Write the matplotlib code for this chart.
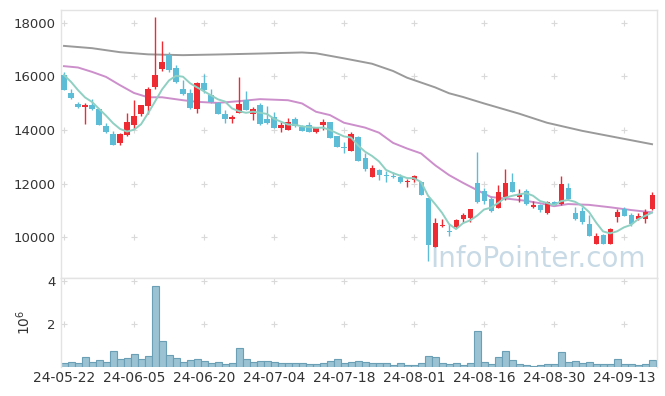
import numpy as np
import pandas as pd
import matplotlib
matplotlib.use("Agg")
import matplotlib.pyplot as plt

# daily prices (trading-day index 0..84)
opens = [16050, 15370, 14960, 14860, 14930, 14790, 14140, 13850, 13500, 13820,
         14170, 14600, 14890, 15610, 16280, 16800, 16310, 15520, 15370, 14790,
         15740, 15290, 14990, 14580, 14420, 14640, 15100, 14590, 14930, 14400,
         14480, 14080, 14010, 14400, 14120, 14180, 13920, 14180, 14300, 13770,
         13370, 13230, 13750, 12940, 12260, 12510, 12320, 12290, 12230, 12050,
         12130, 12060, 11460, 9650, 10420, 10250, 10370, 10680, 10730, 12010,
         11720, 11410, 11100, 11490, 12050, 11510, 11720, 11130, 11190, 10890,
         11300, 11230, 11840, 10920, 10980, 10510, 9760, 10070, 9740, 10770,
         11040, 10820, 10670, 10680, 11040]
highs = [16170, 15510, 15040, 15000, 15150, 14800, 14250, 13950, 13870, 14620,
         15110, 14950, 15590, 18210, 17310, 16910, 16420, 15860, 15510, 15800,
         16080, 15510, 15040, 14740, 14560, 15960, 15440, 14870, 14990, 14890,
         14660, 14290, 14430, 14490, 14200, 14280, 14100, 14400, 14310, 13780,
         13540, 13920, 13760, 13130, 12700, 12530, 12460, 12440, 12350, 12180,
         12330, 12080, 11470, 10730, 10670, 10500, 10700, 10900, 11050, 13190,
         11840, 11540, 11940, 12530, 12380, 11790, 11790, 11350, 11260, 11340,
         11360, 12280, 12010, 11120, 11140, 10830, 10170, 10120, 10330, 11040,
         11120, 10900, 10900, 11040, 11680]
lows = [15480, 15140, 14810, 14220, 14740, 14180, 13900, 13450, 13440, 13770,
        14020, 14520, 14590, 15510, 16200, 16170, 15770, 15320, 14790, 14620,
        15390, 14990, 14580, 14270, 14250, 14620, 14730, 14390, 14200, 14210,
        14080, 13910, 13990, 14120, 13960, 13930, 13880, 14000, 13700, 13370,
        13130, 13220, 12850, 12480, 12250, 12130, 12050, 12220, 12030, 11880,
        12080, 11580, 9120, 9640, 10400, 10060, 10360, 10580, 10580, 11270,
        11240, 10960, 11100, 11390, 11690, 11330, 11200, 11090, 10950, 10880,
        11200, 11220, 11400, 10660, 10480, 10060, 9760, 9740, 9740, 10560,
        10800, 10430, 10640, 10520, 11030]
closes = [15480, 15190, 14850, 14930, 14780, 14190, 13930, 13450, 13850, 14290,
          14540, 14930, 15510, 16040, 16530, 16230, 15790, 15340, 14830, 15760,
          15490, 15040, 14590, 14420, 14480, 14980, 14740, 14800, 14210, 14260,
          14080, 14190, 14280, 14160, 13970, 13930, 14070, 14310, 13710, 13370,
          13340, 13860, 12850, 12540, 12570, 12320, 12280, 12260, 12070, 12110,
          12280, 11590, 9710, 10530, 10460, 10190, 10640, 10820, 11040, 11330,
          11350, 10990, 11680, 12010, 11700, 11610, 11240, 11190, 11020, 11330,
          11210, 11990, 11410, 10680, 10580, 10060, 10040, 9740, 10320, 10950,
          10810, 10500, 10790, 10930, 11580]
# closes of the four sessions before the window (needed for the 5-day average)
prev_closes = [16435, 16395, 16290, 15620]

# volume in millions of shares
volume = [0.19, 0.23, 0.19, 0.47, 0.25, 0.34, 0.25, 0.74, 0.37, 0.42,
          0.60, 0.37, 0.51, 3.77, 1.21, 0.56, 0.42, 0.23, 0.33, 0.37,
          0.28, 0.19, 0.23, 0.14, 0.19, 0.88, 0.37, 0.23, 0.28, 0.28,
          0.23, 0.19, 0.19, 0.19, 0.19, 0.14, 0.14, 0.19, 0.28, 0.37,
          0.19, 0.23, 0.28, 0.23, 0.19, 0.19, 0.19, 0.09, 0.19, 0.09,
          0.09, 0.19, 0.51, 0.47, 0.19, 0.14, 0.19, 0.09, 0.19, 1.67,
          0.23, 0.14, 0.47, 0.74, 0.33, 0.14, 0.09, 0.05, 0.09, 0.14,
          0.14, 0.70, 0.23, 0.28, 0.19, 0.23, 0.14, 0.14, 0.14, 0.37,
          0.14, 0.14, 0.09, 0.14, 0.33]

# longer moving averages at a few sessions
ma20_idx = [0, 2, 4, 6, 8, 10, 12, 14, 17, 19, 22, 25, 28, 32, 34, 36, 38, 40,
            43, 45, 47, 49, 51, 53, 55, 57, 59, 61, 64, 66, 68, 70, 72, 75, 78, 81, 84]
ma20_val = [16380, 16330, 16167, 15980, 15670, 15380, 15220, 15220, 15110, 15050,
            15010, 15075, 15150, 15110, 14990, 14680, 14555, 14270, 14090, 13900,
            13520, 13310, 13128, 12690, 12320, 12030, 11760, 11500, 11420, 11360,
            11270, 11160, 11240, 11210, 11120, 11017, 10930]
ma120_idx = [0, 4, 8, 12, 17, 22, 28, 34, 36, 40, 44, 47, 49, 53, 55, 57, 60, 65,
             69, 74, 78, 84]
ma120_val = [17135, 17050, 16900, 16820, 16790, 16815, 16850, 16890, 16860, 16670,
             16470, 16200, 15950, 15590, 15370, 15230, 14990, 14610, 14270, 13970,
             13770, 13470]

tick_pos = [0, 10, 20, 30, 40, 50, 60, 70, 80]
tick_labels = ['24-05-22', '24-06-05', '24-06-20', '24-07-04', '24-07-18',
               '24-08-01', '24-08-16', '24-08-30', '24-09-13']

UP = '#ee2a33'
DOWN = '#5dbdd7'
FRAME = '#e3e3e3'

x = np.arange(len(closes))
o = np.array(opens)
c = np.array(closes)
ma5 = pd.Series(prev_closes + closes).rolling(5).mean().to_numpy()[len(prev_closes):]

fig = plt.figure(figsize=(6.65, 3.96), dpi=100)
ax = fig.add_axes([61 / 665, 118 / 396, 596 / 665, 268 / 396])
axv = fig.add_axes([61 / 665, 29 / 396, 596 / 665, 89 / 396], sharex=ax)

# watermark
ax.text(0.801, 0.04, 'InfoPointer.com', fontsize=20, color='#c8dae6',
        ha='center', va='baseline', transform=ax.transAxes, zorder=0)

# candles
cols = [UP if cc > oo else DOWN for oo, cc in zip(o, c)]
ax.vlines(x, lows, highs, colors=cols, linewidth=1, zorder=3)
body = np.maximum(np.abs(c - o), 35)
ax.bar(x, body, bottom=np.minimum(o, c), width=0.72, color=cols, zorder=3)

# moving averages
ax.plot(x, ma5, color='#8fd0c3', lw=1.4, zorder=4)
ax.plot(ma20_idx, ma20_val, color='#cc8fcb', lw=1.4, zorder=2)
ax.plot(ma120_idx, ma120_val, color='#9a9a9a', lw=1.4, zorder=2)

ax.set_xlim(-0.43, 84.71)
ax.set_ylim(8483, 18473)
ax.set_yticks([10000, 12000, 14000, 16000, 18000])

# volume
axv.bar(x, volume, width=1.0, color='#9ac2d3', edgecolor='#6b9fb6', linewidth=0.8)
axv.set_ylim(0, 4.15)
axv.set_yticks([2, 4])
axv.set_ylabel('$10^6$', fontsize=10, color='#333333', labelpad=10)
axv.set_xticks(tick_pos)
axv.set_xticklabels(tick_labels)

for a, yt in ((ax, [10000, 12000, 14000, 16000, 18000]), (axv, [2, 4])):
    for s in a.spines.values():
        s.set_color(FRAME)
        s.set_linewidth(1)
    a.tick_params(length=0, labelsize=9.5, colors='#333333', pad=4)
    gx, gy = np.meshgrid(tick_pos, yt)
    a.plot(gx.ravel(), gy.ravel(), ls='none', marker='+', ms=5, mew=0.8,
           color='#d9d9d9', zorder=1, clip_on=False)
ax.tick_params(labelbottom=False)
axv.spines['bottom'].set_visible(False)
axv.tick_params(axis='x', pad=3, labelsize=10)

fig.savefig('out.png', dpi=100)
